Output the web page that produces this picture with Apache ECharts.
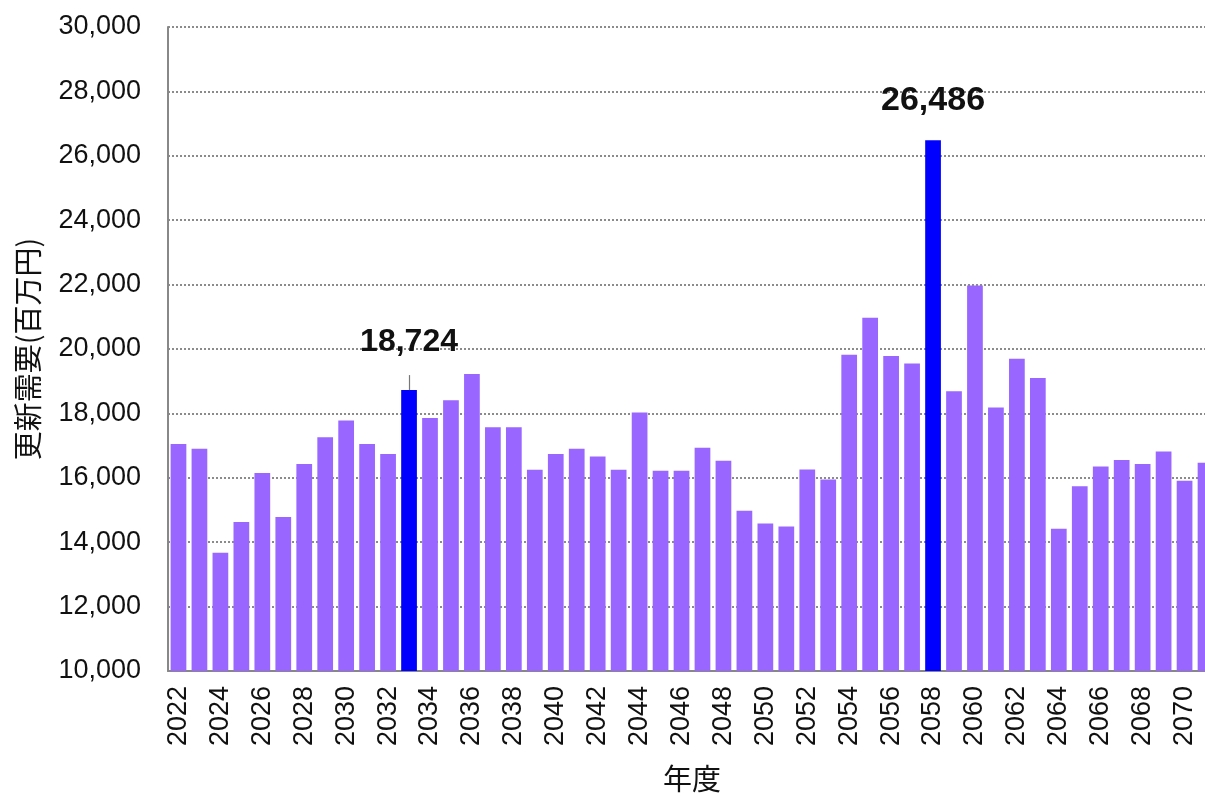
<!DOCTYPE html>
<html><head><meta charset="utf-8">
<script src="https://cdn.jsdelivr.net/npm/echarts@6/dist/echarts.min.js"></script>
<style>html,body{margin:0;padding:0;background:#fff}#c{width:1205px;height:796px}</style>
</head><body><div id="c"></div>
<script>
const years = [];
for (let y = 2022; y <= 2071; y++) years.push(String(y));
const values = [
 17050, 16900, 13670, 14630, 16150, 14780, 16430, 17260, 17780, 17050,
 16740, 18724, 17860, 18410, 19220, 17570, 17570, 16250, 16740, 16900,
 16660, 16250, 18030, 16220, 16220, 16930, 16530, 14980, 14580, 14490,
 16260, 15950, 19820, 20970, 19780, 19550, 26486, 18690, 21970, 18180,
 19700, 19100, 14420, 15740, 16350, 16550, 16430, 16820, 15910, 16470
];
const highlightYears = ['2033', '2058'];
const yTicks = { min: 10000, max: 30000, interval: 2000 };
const barColor = '#9966ff';
const hiColor = '#0000ff';

const data = values.map((v, i) => {
  const hi = highlightYears.includes(years[i]);
  const d = { value: v, itemStyle: { color: hi ? hiColor : barColor } };
  if (hi) {
    const first = years[i] === '2033';
    d.label = {
      show: true, position: 'top', distance: first ? 32 : 23,
      formatter: p => p.value.toLocaleString('en-US'),
      fontFamily: 'Liberation Sans', fontWeight: 'bold', fontSize: first ? 32 : 34,
      color: '#111'
    };
  }
  return d;
});

const chart = echarts.init(document.getElementById('c'), null, { renderer: 'canvas' });
chart.setOption({
  animation: false,
  grid: { left: 168, top: 27, bottom: 125, width: 1048, containLabel: false, outerBoundsMode: 'none' },
  xAxis: {
    type: 'category', data: years,
    name: '年度', nameLocation: 'middle', nameGap: 93,
    nameTextStyle: { fontFamily: 'Noto Sans CJK JP', fontSize: 29, color: '#111' },
    axisLine: { lineStyle: { color: '#888', width: 2 } },
    axisTick: { show: false },
    axisLabel: { interval: 1, rotate: 90, fontFamily: 'Liberation Sans', fontSize: 27, color: '#111', margin: 15 }
  },
  yAxis: {
    type: 'value', min: yTicks.min, max: yTicks.max, interval: yTicks.interval,
    name: '更新需要(百万円)', nameLocation: 'middle', nameGap: 126, nameRotate: 90,
    nameTextStyle: { fontFamily: 'Noto Sans CJK JP', fontSize: 29, color: '#111' },
    axisLine: { show: true, lineStyle: { color: '#888', width: 2 } },
    axisTick: { show: false },
    axisLabel: { fontFamily: 'Liberation Sans', fontSize: 27, color: '#111', margin: 27,
      formatter: v => v.toLocaleString('en-US') },
    splitLine: { lineStyle: { color: '#666', type: [2, 2], width: 1.5 } }
  },
  series: [{
    type: 'bar', data: data, barCategoryGap: '25%',
    markLine: {
      silent: true, symbol: 'none', label: { show: false },
      lineStyle: { color: '#777', type: 'solid', width: 1.2 },
      data: [[{ coord: ['2033', 18724] }, { coord: ['2033', 19190] }]]
    }
  }]
});
</script></body></html>
